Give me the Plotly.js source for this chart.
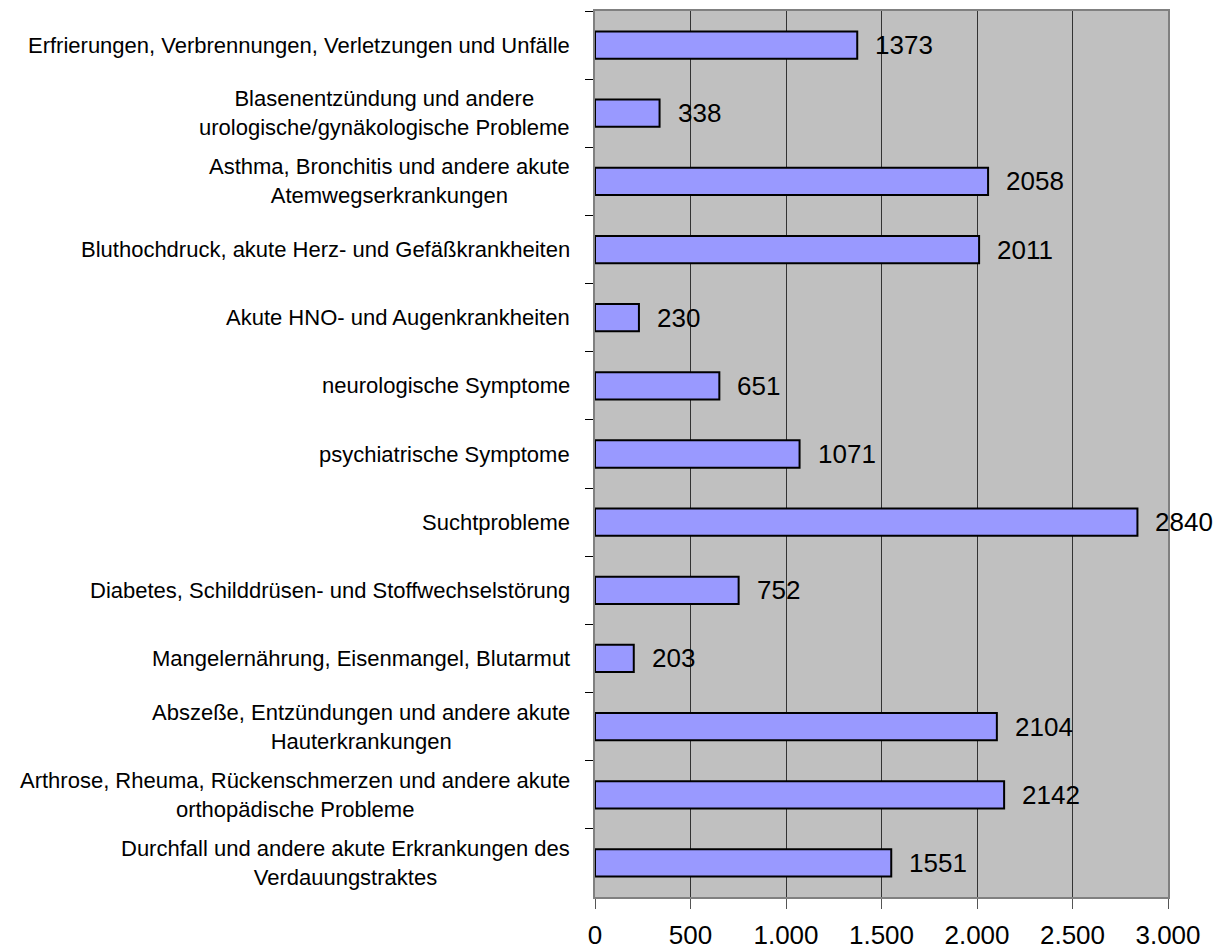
<!DOCTYPE html>
<html>
<head>
<meta charset="utf-8">
<script src="https://cdn.plot.ly/plotly-3.0.1.min.js"></script>
<style>html,body{margin:0;padding:0;background:#fff;}#chart{width:1217px;height:950px;}</style>
</head>
<body>
<div id="chart"></div>
<script>
const categories = [
  "Erfrierungen, Verbrennungen, Verletzungen und Unfälle",
  "Blasenentzündung und andere<br>urologische/gynäkologische Probleme",
  "Asthma, Bronchitis und andere akute<br>Atemwegserkrankungen",
  "Bluthochdruck, akute Herz- und Gefäßkrankheiten",
  "Akute HNO- und Augenkrankheiten",
  "neurologische Symptome",
  "psychiatrische Symptome",
  "Suchtprobleme",
  "Diabetes, Schilddrüsen- und Stoffwechselstörung",
  "Mangelernährung, Eisenmangel, Blutarmut",
  "Abszeße, Entzündungen und andere akute<br>Hauterkrankungen",
  "Arthrose, Rheuma, Rückenschmerzen und andere akute<br>orthopädische Probleme",
  "Durchfall und andere akute Erkrankungen des<br>Verdauungstraktes"
];
const values = [1373, 338, 2058, 2011, 230, 651, 1071, 2840, 752, 203, 2104, 2142, 1551];
const tickValues = [0, 500, 1000, 1500, 2000, 2500, 3000];
const tickLabels = ["0", "500", "1.000", "1.500", "2.000", "2.500", "3.000"];

const FONT = "'Liberation Sans', Arial, sans-serif";

const catAnnotations = categories.map(c => ({
  x: 0, xref: 'paper', y: c, yref: 'y',
  text: c, showarrow: false, xanchor: 'right', yanchor: 'middle',
  align: 'center', xshift: -23,
  font: {family: FONT, size: 22, color: '#000'}
}));
const valAnnotations = values.map((v, i) => ({
  x: v, xref: 'x', y: categories[i], yref: 'y',
  text: String(v), showarrow: false, xanchor: 'left', yanchor: 'middle',
  xshift: 16,
  font: {family: FONT, size: 26, color: '#000'}
}));

const trace = {
  type: 'bar', orientation: 'h',
  x: values, y: categories,
  marker: {color: '#9999FF', line: {color: '#000', width: 2}},
  hoverinfo: 'none'
};

const layout = {
  width: 1217, height: 950,
  margin: {l: 595, r: 49, t: 11, b: 53},
  paper_bgcolor: '#fff', plot_bgcolor: '#C0C0C0',
  bargap: 0.6,
  showlegend: false,
  xaxis: {
    range: [0, 3000], tickvals: tickValues, ticktext: tickLabels,
    showgrid: true, gridcolor: '#333', gridwidth: 1,
    zeroline: false, showline: true, mirror: true, linecolor: '#808080', linewidth: 2,
    ticks: 'outside', ticklen: 10, tickcolor: '#555', tickwidth: 1,
    ticklabelstandoff: 4,
    tickfont: {family: FONT, size: 26, color: '#000'},
    fixedrange: true
  },
  yaxis: {
    type: 'category', autorange: 'reversed',
    showticklabels: false, showgrid: false, zeroline: false,
    showline: true, mirror: true, linecolor: '#808080', linewidth: 2,
    ticks: 'outside', tickson: 'boundaries', ticklen: 8, tickcolor: '#000', tickwidth: 1,
    fixedrange: true
  },
  annotations: catAnnotations.concat(valAnnotations)
};

Plotly.newPlot('chart', [trace], layout, {displayModeBar: false, staticPlot: true});
</script>
</body>
</html>
